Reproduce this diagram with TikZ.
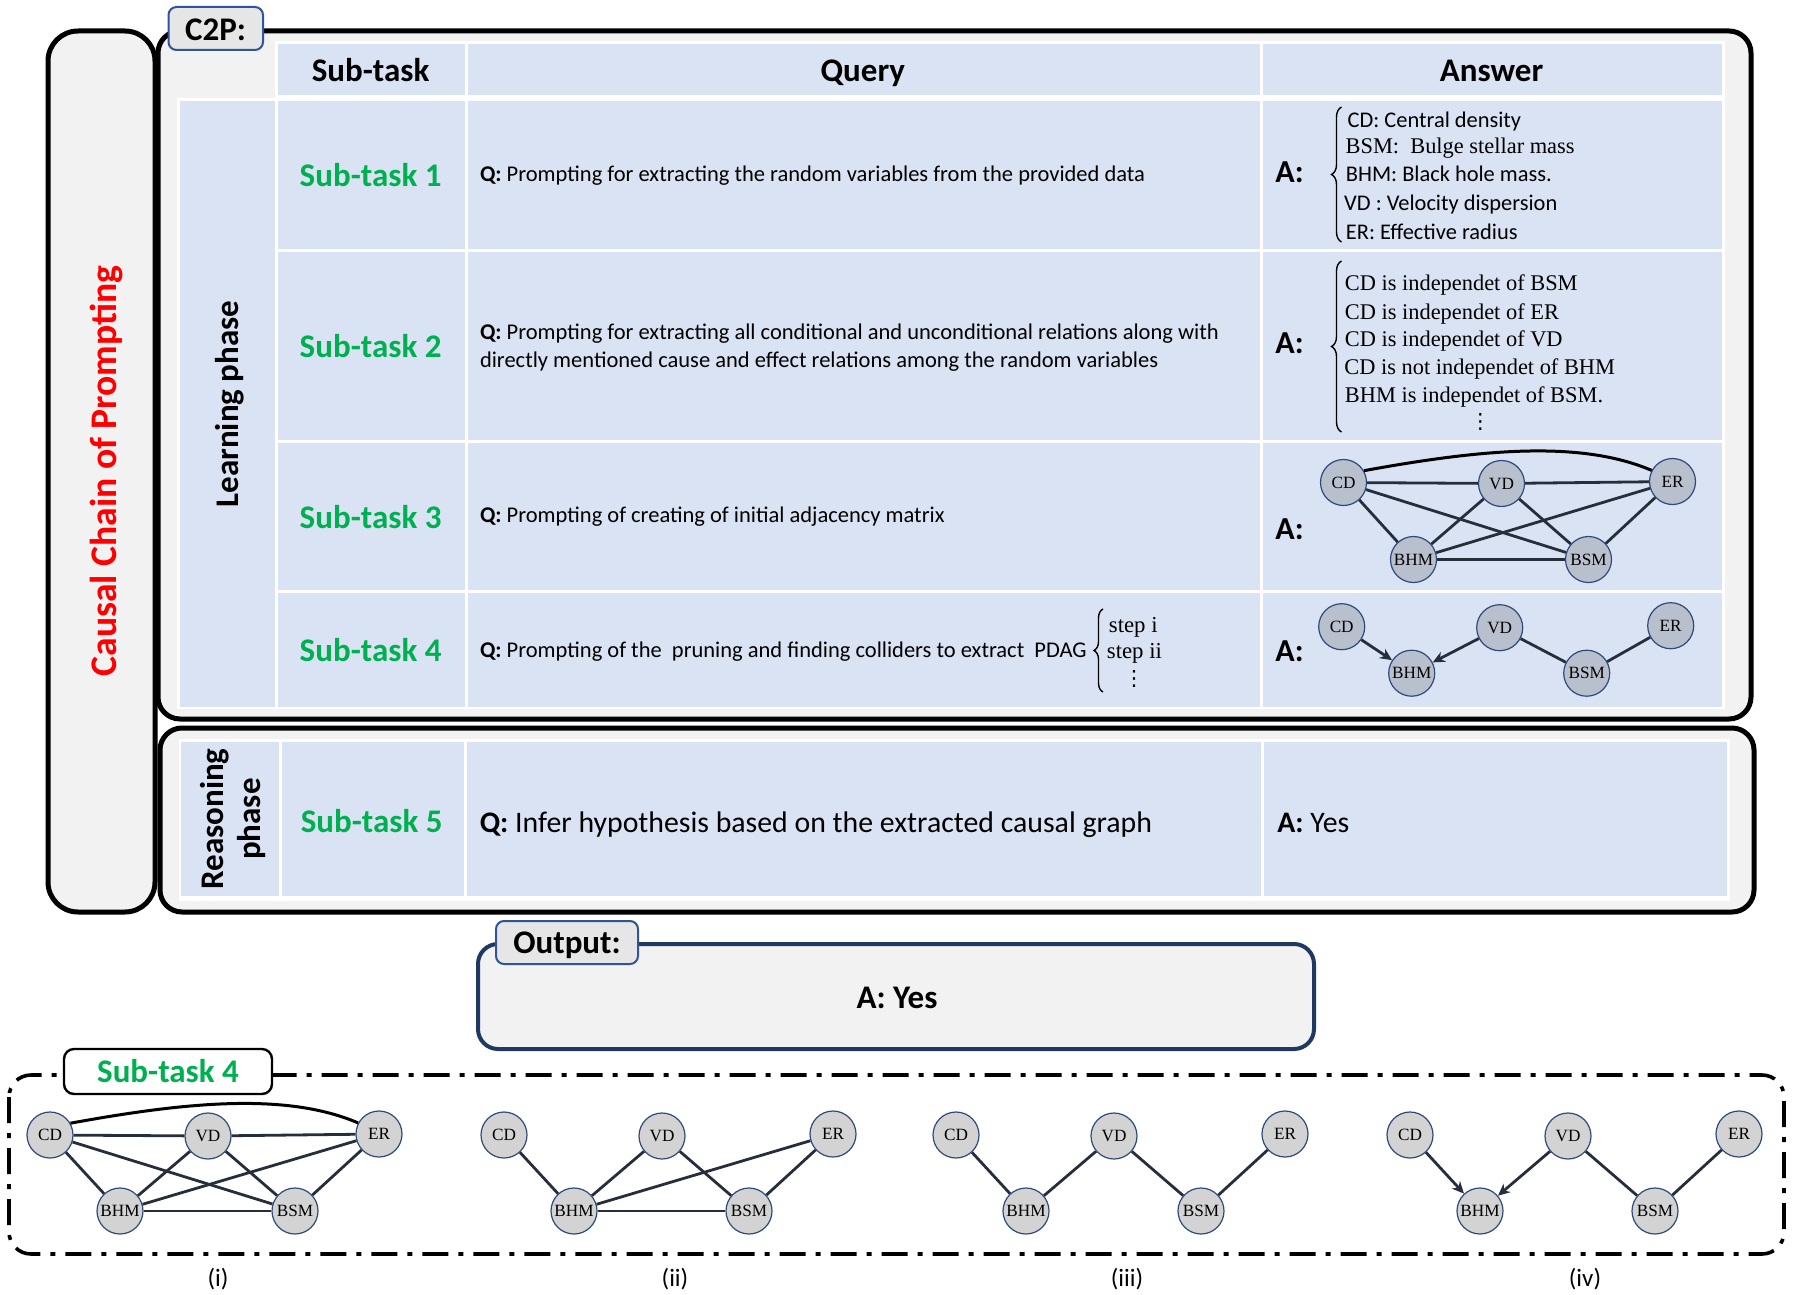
\documentclass[tikz,border=0pt]{standalone}
\usepackage{fontspec}
\setmainfont{Carlito}
\newfontfamily\serifcam{Liberation Serif}
\newfontfamily\dotsfont{DejaVu Sans}
\usetikzlibrary{arrows.meta,decorations.pathreplacing}
\definecolor{cellblue}{HTML}{DAE3F3}
\definecolor{boxgray}{HTML}{F2F2F2}
\definecolor{labgray}{HTML}{E6E6E6}
\definecolor{labblue}{HTML}{2F5597}
\definecolor{navy}{HTML}{203864}
\definecolor{stgreen}{HTML}{00B050}
\definecolor{nodefill}{HTML}{D3D3D3}
\definecolor{tnodefill}{HTML}{B9C0CD}
\definecolor{nodeedge}{HTML}{2F4A7A}
\definecolor{edgecol}{HTML}{262E3B}
\newcommand\fHead{\fontsize{16.5}{18.5}\selectfont\bfseries}
\newcommand\fQ{\fontsize{11.25}{13.8}\selectfont}
\newcommand\fL{\fontsize{11.2}{14}\selectfont}
\newcommand\fQbig{\fontsize{14.9}{18}\selectfont}
\newcommand\fA{\fontsize{16}{19}\selectfont\bfseries}
\newcommand\fStep{\fontsize{11.4}{14}\selectfont\serifcam}
\newcommand\fDots{\fontsize{10.5}{11}\selectfont\dotsfont}
\newcommand\fNode{\fontsize{8.6}{9}\selectfont\serifcam}
\newcommand\placegraph[5]{%
  \node[gnode,#5] (#1cd) at (#2,#3) {CD};
  \node[gnode,#5] (#1vd) at ({#2+158},{#3+1}) {VD};
  \node[gnode,#5] (#1er) at ({#2+329},{#3-1}) {ER};
  \node[gnode,#5] (#1bhm) at ({#2+70},{#3+#4}) {BHM};
  \node[gnode,#5] (#1bsm) at ({#2+245},{#3+#4}) {BSM};
}
\newcommand\fullK[1]{%
  \draw[gedge] (#1cd) -- (#1vd);
  \draw[gedge] (#1vd) -- (#1er);
  \draw[gedge] (#1cd) -- (#1bhm);
  \draw[gedge] (#1cd) -- (#1bsm);
  \draw[gedge] (#1vd) -- (#1bhm);
  \draw[gedge] (#1vd) -- (#1bsm);
  \draw[gedge] (#1er) -- (#1bhm);
  \draw[gedge] (#1er) -- (#1bsm);
  \draw[gedge] (#1bhm) -- (#1bsm);
  \draw[gcurve] (#1cd.30) .. controls +(120,-22) and +(-70,-30) .. (#1er.152);
}
\newcommand\pdagK[2]{% #2 = tip style
  \draw[#2] (#1cd) -- (#1bhm);
  \draw[#2] (#1vd) -- (#1bhm);
  \draw[gedge] (#1vd) -- (#1bsm);
  \draw[gedge] (#1er) -- (#1bsm);
}
\tikzset{
  gnode/.style={circle, draw=nodeedge, line width=0.6pt, fill=nodefill, inner sep=0pt, minimum size=23pt, font=\fNode},
  tnode/.style={fill=tnodefill},
  gedge/.style={draw=edgecol, line width=1.4pt},
  garrow/.style={gedge, -{Stealth[length=6pt,width=5.5pt]}},
  gcurve/.style={draw=black, line width=1.5pt},
  tcell/.style={fill=cellblue},
  bigbox/.style={draw=black, line width=2.5pt, fill=boxgray, rounded corners=11pt},
  labbox/.style={draw=labblue, line width=1pt, fill=labgray, rounded corners=4pt},
  dashbox/.style={draw=black, line width=1.8pt, rounded corners=11pt, dash pattern=on 13pt off 5pt on 2.5pt off 5pt},
  bracedeco/.style={draw=black, line width=0.7pt, decorate, decoration={brace, amplitude=5pt}},
}
\begin{document}
\begin{tikzpicture}[x=0.5pt,y=-0.5pt]
\useasboundingbox[fill=white] (0,0) rectangle (1799,1295);
% ---------- big boxes ----------
\draw[bigbox, rounded corners=15pt] (48,31) rectangle (155,912);
\draw[bigbox] (158,31) rectangle (1751,719);
\draw[bigbox] (160,728) rectangle (1754,912);
% ---------- C2P table ----------
\fill[white] (275,41) -- (1725,41) -- (1725,709) -- (177,709) -- (177,98) -- (275,98) -- cycle;
\fill[tcell] (278,44) rectangle (464.5,95.5);
\fill[tcell] (467.5,44) rectangle (1259.5,95.5);
\fill[tcell] (1262.5,44) rectangle (1722,95.5);
\fill[tcell] (180,101) rectangle (275,706.5);
\foreach \ya/\yb in {101/249, 252/439.5, 442.5/589.5, 592.5/706.5}{
  \fill[tcell] (278,\ya) rectangle (464.5,\yb);
  \fill[tcell] (467.5,\ya) rectangle (1259.5,\yb);
  \fill[tcell] (1262.5,\ya) rectangle (1722,\yb);
}
% ---------- reasoning table ----------
\fill[white] (179,739) rectangle (1730,901);
\fill[tcell] (181,742) rectangle (279,896);
\fill[tcell] (282,742) rectangle (463.5,896);
\fill[tcell] (466.5,742) rectangle (1261,896);
\fill[tcell] (1264,742) rectangle (1727,896);
% ---------- labels of boxes ----------
\draw[labbox] (168.5,7) rectangle (263,50);
\node[anchor=base, font=\fHead] (c2p) at (215.5,40.5) {C2P:};
\node[rotate=90, font=\fontsize{18.8}{22}\selectfont\bfseries, text=red] (ccp) at (106.5,471) {Causal Chain of Prompting};
\node[rotate=90, font=\fHead] (lp) at (230,404) {Learning phase};
\node[rotate=90, font=\fHead, align=center] (rp) at (233,819) {Reasoning\\phase};
% ---------- headers ----------
\node[anchor=base, font=\fHead] (hst) at (370.6,81.6) {Sub-task};
\node[anchor=base, font=\fHead] (hq) at (862.8,81.6) {Query};
\node[anchor=base, font=\fHead] (ha) at (1491.5,81.6) {Answer};
% ---------- sub-task labels ----------
\node[anchor=base, font=\fHead, text=stgreen] (st1) at (370.6,186) {Sub-task 1};
\node[anchor=base, font=\fHead, text=stgreen] (st2) at (370.6,357) {Sub-task 2};
\node[anchor=base, font=\fHead, text=stgreen] (st3) at (370.6,528) {Sub-task 3};
\node[anchor=base, font=\fHead, text=stgreen] (st4) at (370.6,661) {Sub-task 4};
\node[anchor=base, font=\fHead, text=stgreen] (st5) at (371.7,832) {Sub-task 5};
% ---------- queries ----------
\node[anchor=base west, inner sep=0pt, font=\fQ] (q1) at (479.6,181.5) {\textbf{Q:} Prompting for extracting the random variables from the provided data};
\node[anchor=base west, inner sep=0pt, font=\fQ] (q2a) at (479.6,339.8) {\textbf{Q:} Prompting for extracting all conditional and unconditional relations along with};
\node[anchor=base west, inner sep=0pt, font=\fQ] (q2b) at (479.6,367.4) {directly mentioned cause and effect relations among the random variables};
\node[anchor=base west, inner sep=0pt, font=\fQ] (q3) at (479.6,522) {\textbf{Q:} Prompting of creating of initial adjacency matrix};
\node[anchor=base west, inner sep=0pt, font=\fQ] (q4) at (479.6,657.6) {\textbf{Q:} Prompting of the\ \ pruning and finding colliders to extract\ \ PDAG};
\node[anchor=base west, inner sep=0pt, font=\fQbig] (q5) at (479.4,832) {\textbf{Q:} Infer hypothesis based on the extracted causal graph};
% steps
\coordinate (sbb) at (1103,692);
\coordinate (sbt) at (1103,609);
\draw[bracedeco, decoration={amplitude=4.5pt}] (sbb) -- (sbt);
\node[anchor=base west, inner sep=0pt, font=\fStep] (s1) at (1108.5,632) {step i};
\node[anchor=base west, inner sep=0pt, font=\fStep] (s2) at (1106.5,658.7) {step ii};
\node[inner sep=0pt, font=\fDots] (s3) at (1134,679) {⋮};
% ---------- answers ----------
\node[anchor=base west, inner sep=0pt, font=\fA] (a1) at (1275,183) {A:};
\node[anchor=base west, inner sep=0pt, font=\fA] (a2) at (1275,353) {A:};
\node[anchor=base west, inner sep=0pt, font=\fA] (a3) at (1275,539) {A:};
\node[anchor=base west, inner sep=0pt, font=\fA] (a4) at (1275,661) {A:};
\node[anchor=base west, inner sep=0pt, font=\fQbig] (a5) at (1277,832) {\textbf{A:} Yes};
% list 1
\coordinate (b1b) at (1341.5,242);
\coordinate (b1t) at (1341.5,107);
\draw[bracedeco] (b1b) -- (b1t);
\node[anchor=base west, inner sep=0pt, font=\fL] (l1a) at (1347.3,127) {CD: Central density};
\node[anchor=base west, inner sep=0pt, font=\fL\serifcam] (l1b) at (1345.2,154) {BSM:\ \ Bulge stellar mass};
\node[anchor=base west, inner sep=0pt, font=\fL] (l1c) at (1345.5,181) {BHM: Black hole mass.};
\node[anchor=base west, inner sep=0pt, font=\fL] (l1d) at (1343.8,210.5) {VD : Velocity dispersion};
\node[anchor=base west, inner sep=0pt, font=\fL] (l1e) at (1345.5,239) {ER: Effective radius};
% list 2
\coordinate (b2b) at (1341.5,432);
\coordinate (b2t) at (1341.5,261);
\draw[bracedeco] (b2b) -- (b2t);
\node[anchor=base west, inner sep=0pt, font=\fL\serifcam] (l2a) at (1344.5,290.7) {CD is independet of BSM};
\node[anchor=base west, inner sep=0pt, font=\fL\serifcam] (l2b) at (1344.5,319) {CD is independet of ER};
\node[anchor=base west, inner sep=0pt, font=\fL\serifcam] (l2c) at (1344.5,346.7) {CD is independet of VD};
\node[anchor=base west, inner sep=0pt, font=\fL\serifcam] (l2d) at (1344,374.7) {CD is not independet of BHM};
\node[anchor=base west, inner sep=0pt, font=\fL\serifcam] (l2e) at (1344.5,402.4) {BHM is independet of BSM.};
\node[inner sep=0pt, font=\fDots] (l2f) at (1480.3,422) {⋮};
% table graphs
\placegraph{t3}{1343.5}{482.5}{77}{tnode}
\fullK{t3}
\placegraph{t4}{1341.7}{626.7}{46.5}{tnode}
\pdagK{t4}{garrow}
% ---------- output box ----------
\draw[draw=navy, line width=2pt, fill=boxgray, rounded corners=10pt] (478,944) rectangle (1314,1049);
\draw[labbox] (496,921) rectangle (638,964);
\node[anchor=base, font=\fHead] (outl) at (567,953.6) {Output:};
\node[anchor=base, font=\fHead] (outa) at (897,1008.6) {A: Yes};
% ---------- sub-task 4 panel ----------
\draw[dashbox] (9,1075) rectangle (1784,1254);
\draw[draw=black, line width=1.2pt, fill=white, rounded corners=5pt] (64,1049) rectangle (272,1094);
\node[anchor=base, font=\fHead, text=stgreen] (st4b) at (168,1082) {Sub-task 4};
\placegraph{ga}{50}{1135}{76}{}
\fullK{ga}
\placegraph{gb}{504}{1135}{76}{}
\draw[gedge] (gbcd) -- (gbbhm);
\draw[gedge] (gbvd) -- (gbbhm);
\draw[gedge] (gbvd) -- (gbbsm);
\draw[gedge] (gber) -- (gbbhm);
\draw[gedge] (gber) -- (gbbsm);
\draw[gedge] (gbbhm) -- (gbbsm);
\placegraph{gc}{956}{1135}{76}{}
\pdagK{gc}{gedge}
\placegraph{gd}{1410}{1135}{76}{}
\pdagK{gd}{garrow}
\node[anchor=base, font=\fontsize{12.5}{15}\selectfont] (li) at (218,1286) {(i)};
\node[anchor=base, font=\fontsize{12.5}{15}\selectfont] (lii) at (675,1286) {(ii)};
\node[anchor=base, font=\fontsize{12.5}{15}\selectfont] (liii) at (1127,1286) {(iii)};
\node[anchor=base, font=\fontsize{12.5}{15}\selectfont] (liv) at (1585,1286) {(iv)};
\end{tikzpicture}
\end{document}
